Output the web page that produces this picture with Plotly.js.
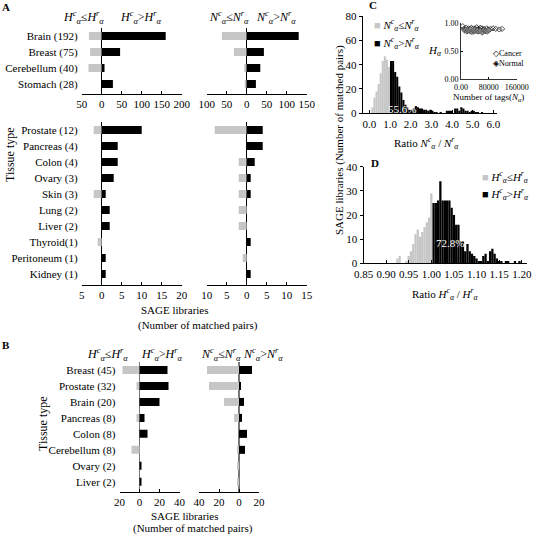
<!DOCTYPE html>
<html><head><meta charset="utf-8">
<script src="https://cdn.plot.ly/plotly-3.0.1.min.js"></script>
<style>body{margin:0;background:#fff}#chart{width:537px;height:535px}</style>
</head><body><div id="chart"></div>
<script>
// ---------- Panel A (top) ----------
const aTopTissues = ['Brain (192)','Breast (75)','Cerebellum (40)','Stomach (28)'];
const aTopHLe = [32, 29, 33, 0];
const aTopHGt = [160, 46, 7, 28];
const aTopNLe = [62, 32, 6, 5];
const aTopNGt = [130, 43, 34, 23];
const aTopHTicks = [-50, 0, 50, 100, 150, 200];
const aTopNTicks = [-100, -50, 0, 50, 100, 150];
// ---------- Panel A (bottom) ----------
const aBotTissues = ['Prostate (12)','Pancreas (4)','Colon (4)','Ovary (3)','Skin (3)','Lung (2)','Liver (2)','Thyroid(1)','Peritoneum (1)','Kidney (1)'];
const aBotHLe = [2,0,0,0,2,0,0,1,0,0];
const aBotHGt = [10,4,4,3,1,2,2,0,1,1];
const aBotNLe = [8,0,2,2,2,2,2,0,1,0];
const aBotNGt = [4,4,2,1,1,0,0,1,0,1];
const aBotHTicks = [-5, 0, 5, 10, 15, 20];
const aBotNTicks = [-10, -5, 0, 5, 10, 15];
// ---------- Panel B ----------
const bTissues = ['Breast (45)','Prostate (32)','Brain (20)','Pancreas (8)','Colon (8)','Cerebellum (8)','Ovary (2)','Liver (2)'];
const bHLe = [17,3,0,3,0,8,0,0];
const bHGt = [28,29,20,5,8,0,2,2];
const bNLe = [32,30,15,5,0,2,2,2];
const bNGt = [13,2,5,3,8,6,0,0];
const bHTicks = [-20, 0, 20, 40];
const bNTicks = [-40, -20, 0, 20];
// ---------- Panel C histogram ----------
const cGreyX = [0.15,0.25,0.35,0.45,0.55,0.65,0.75,0.85,0.95];
const cGreyY = [5,13,18,24,33,43,47,44,38];
const cBlackX = [1.05,1.15,1.25,1.35,1.45,1.55,1.65,1.75,1.85,1.95,2.05,2.15,2.25,2.35,2.45,2.55,2.65,2.75,2.85,2.95,3.05,3.15,3.25,3.35,3.45,3.55,3.65,3.75,3.85,3.95,4.05,4.15,4.25,4.35,4.45,4.55,4.65,4.75,4.85,4.95,5.05,5.15,5.25,5.35,5.45];
const cBlackY = [43,43,34,30,22,17,11,7,5,3,3,4,6,5,4,4,3,3,2,3,2,1,1,0,1,0,0,2,2,2,0,4,4,2,5,4,2,2,1,2,2,1,1,0,1];
const cTicks = [0,1,2,3,4,5,6];
// ---------- Panel C inset ----------
const cancerTags = [5000,8000,12000,15000,18000,22000,25000,28000,30000,33000,36000,40000,42000,45000,48000,50000,52000,55000,58000,60000,63000,66000,70000,74000,78000,85000,92000,100000,110000,118000];
const cancerH = [0.95,0.90,0.88,0.92,0.86,0.91,0.89,0.87,0.92,0.90,0.85,0.91,0.88,0.93,0.86,0.90,0.89,0.92,0.87,0.91,0.88,0.90,0.86,0.91,0.89,0.90,0.91,0.90,0.89,0.90];
const normalTags = [10000,14000,17000,20000,24000,27000,31000,35000,38000,43000,47000,51000,56000,61000,65000,69000,72000,76000,80000];
const normalH = [0.87,0.89,0.85,0.88,0.86,0.90,0.84,0.87,0.89,0.86,0.88,0.85,0.87,0.83,0.88,0.86,0.87,0.85,0.88];
// ---------- Panel D histogram ----------
const dGreyX = [0.925,0.93,0.945,0.95,0.955,0.96,0.965,0.97,0.975,0.98,0.985,0.99,0.995,1.0];
const dGreyY = [2,3,1,3,5,8,12,14,11,13,15,17,19,29];
const dBlackX = [1.005,1.01,1.015,1.02,1.025,1.03,1.035,1.04,1.045,1.05,1.055,1.06,1.065,1.07,1.075,1.08,1.085,1.09,1.095,1.1,1.105,1.11,1.115,1.12,1.125,1.13,1.135,1.14,1.145,1.15,1.155,1.16,1.165,1.17,1.175,1.18,1.185,1.19,1.195];
const dBlackY = [25,25,26,34,26,26,26,26,23,20,16,16,9,9,5,8,5,4,3,2,1,1,3,4,1,5,6,4,2,1,1,0,1,1,0,0,1,0,1];
const dTicks = [0.85,0.90,0.95,1.00,1.05,1.10,1.15,1.20];

const W = 537, H = 535;
const px = v => v / W;
const py = v => 1 - v / H;
const FONT = 'Liberation Serif, Times New Roman, serif';
const GREY = '#c6c6c6', BLACK = '#000000';

const traces = [];
const layout = {
  width: W, height: H,
  margin: {l:0, r:0, t:0, b:0},
  paper_bgcolor: '#fff', plot_bgcolor: 'rgba(0,0,0,0)',
  showlegend: false, barmode: 'relative',
  font: {family: FONT, size: 11, color: '#000'},
  annotations: []
};

function barPanel(id, cats, le, gt, xdom, ydom, extra, ticks, showCats, zeroColor) {
  const xa = 'x' + id, ya = 'y' + id;
  traces.push({type:'bar', orientation:'h', y:cats, x:le.map(v => -v), xaxis:xa, yaxis:ya,
    marker:{color:GREY}, width:0.5, hoverinfo:'skip'});
  traces.push({type:'bar', orientation:'h', y:cats, x:gt, xaxis:xa, yaxis:ya,
    marker:{color:BLACK}, width:0.5, hoverinfo:'skip'});
  layout['xaxis' + (id === '1' ? '' : id)] = {
    domain:[px(xdom[0]), px(xdom[1])], anchor:ya,
    range:[ticks[0], ticks[ticks.length-1]],
    tickvals: ticks, ticktext: ticks.map(v => String(Math.abs(v))),
    showline:true, linecolor:'#000', linewidth:1, mirror:false,
    ticks:'inside', ticklen:3, tickcolor:'#000',
    showgrid:false, zeroline:true, zerolinecolor:zeroColor, zerolinewidth:1.2,
    tickfont:{size:11}, fixedrange:true
  };
  layout['yaxis' + (id === '1' ? '' : id)] = {
    domain:[py(ydom[1]), py(ydom[0])], anchor:xa,
    type:'category', categoryorder:'array', categoryarray:cats,
    range:[cats.length - 0.5 + extra, -0.5],
    showline:false, ticks:'', showgrid:false, zeroline:false,
    showticklabels: showCats, ticklabelstandoff: 3, tickfont:{size:11}, fixedrange:true
  };
}

barPanel('1', aTopTissues, aTopHLe, aTopHGt, [81.7,181.7], [28,94], 0.125, aTopHTicks, true, '#000');
barPanel('2', aTopTissues, aTopNLe, aTopNGt, [206.7,306.7], [28,94], 0.125, aTopNTicks, false, '#000');
barPanel('3', aBotTissues, aBotHLe, aBotHGt, [81.7,181.7], [122,285], 0.19, aBotHTicks, true, '#000');
barPanel('4', aBotTissues, aBotNLe, aBotNGt, [206.7,306.7], [122,285], 0.19, aBotNTicks, false, '#000');
barPanel('5', bTissues, bHLe, bHGt, [119.5,179.5], [362,492], 0.14, bHTicks, true, '#777');
barPanel('6', bTissues, bNLe, bNGt, [199,259], [362,492], 0.14, bNTicks, false, '#777');

// Panel C
traces.push({type:'bar', x:cGreyX, y:cGreyY, width:0.1, marker:{color:GREY, line:{width:0}}, xaxis:'x7', yaxis:'y7', hoverinfo:'skip'});
traces.push({type:'bar', x:cBlackX, y:cBlackY, width:0.1, marker:{color:BLACK, line:{width:0}}, xaxis:'x7', yaxis:'y7', hoverinfo:'skip'});
layout.xaxis7 = {domain:[px(362.7), px(496.7)], anchor:'y7', range:[-0.32, 6.16],
  tickvals:cTicks, tickformat:'.1f', showline:true, linecolor:'#000', linewidth:1,
  ticks:'inside', ticklen:3, tickcolor:'#000', showgrid:false, zeroline:false, tickfont:{size:11}};
layout.yaxis7 = {domain:[py(113.3), py(16)], anchor:'x7', range:[0,80], dtick:20,
  showline:true, linecolor:'#000', linewidth:1, ticks:'outside', ticklen:3, tickcolor:'#000',
  showgrid:false, zeroline:false, tickfont:{size:11}};

// Inset
traces.push({type:'scatter', mode:'markers', x:cancerTags, y:cancerH, xaxis:'x8', yaxis:'y8',
  marker:{symbol:'diamond-open', size:4, color:'#000', line:{width:0.7}}, hoverinfo:'skip'});
traces.push({type:'scatter', mode:'markers', x:normalTags, y:normalH, xaxis:'x8', yaxis:'y8',
  marker:{symbol:'diamond', size:4, color:'#888', line:{width:0.5, color:'#333'}}, hoverinfo:'skip'});
layout.xaxis8 = {domain:[px(461), px(516.7)], anchor:'y8', range:[0,160000],
  tickvals:[0,80000,160000], ticktext:['0.00','80000','160000'],
  showline:true, linecolor:'#000', linewidth:0.8, ticks:'inside', ticklen:2, tickcolor:'#000',
  showgrid:false, zeroline:false, tickfont:{size:8}};
layout.yaxis8 = {domain:[py(79.3), py(23.3)], anchor:'x8', range:[0,1],
  tickvals:[0,0.5,1], ticktext:['0.00','0.50','1.00'],
  showline:true, linecolor:'#000', linewidth:0.8, ticks:'inside', ticklen:2, tickcolor:'#000',
  showgrid:false, zeroline:false, tickfont:{size:8}};

// Panel D
traces.push({type:'bar', x:dGreyX, y:dGreyY, width:0.005, marker:{color:GREY, line:{width:0}}, xaxis:'x9', yaxis:'y9', hoverinfo:'skip'});
traces.push({type:'bar', x:dBlackX, y:dBlackY, width:0.005, marker:{color:BLACK, line:{width:0}}, xaxis:'x9', yaxis:'y9', hoverinfo:'skip'});
layout.xaxis9 = {domain:[px(363.5), px(527.4)], anchor:'y9', range:[0.85, 1.2125],
  tickvals:dTicks, tickformat:'.2f', showline:true, linecolor:'#000', linewidth:1,
  ticks:'inside', ticklen:3, tickcolor:'#000', showgrid:false, zeroline:false, tickfont:{size:11}};
layout.yaxis9 = {domain:[py(263.3), py(166.7)], anchor:'x9', range:[0,40], dtick:10,
  showline:true, linecolor:'#000', linewidth:1, ticks:'outside', ticklen:3, tickcolor:'#000',
  showgrid:false, zeroline:false, tickfont:{size:11}};

// ---------- annotations ----------
function ann(text, x, y, opts) {
  layout.annotations.push(Object.assign({text:text, x:px(x), y:py(y), xref:'paper', yref:'paper',
    showarrow:false, xanchor:'center', yanchor:'middle', font:{size:11}}, opts || {}));
}
const sym = (s, op) => '<i>' + s + '</i><sup><i>c</i></sup><sub><i>α</i></sub>' + op + '<i>' + s + '</i><sup><i>r</i></sup><sub><i>α</i></sub>';

ann('<b>A</b>', 6, 7);
ann('<b>B</b>', 6, 345);
ann('<b>C</b>', 373, 5);
ann('<b>D</b>', 375, 163);

ann(sym('H','≤'), 83.3, 17, {font:{size:12}});
ann(sym('H','>'), 141, 17, {font:{size:12}});
ann(sym('N','≤'), 229, 18, {font:{size:12}});
ann(sym('N','>'), 276, 18, {font:{size:12}});

ann(sym('H','≤'), 107.5, 354, {font:{size:12}});
ann(sym('H','>'), 161.7, 354, {font:{size:12}});
ann(sym('N','≤'), 221, 354, {font:{size:12}});
ann(sym('N','>'), 263, 354, {font:{size:12}});

ann('Tissue type', 10, 155, {textangle:-90, font:{size:12}});
ann('Tissue type', 43, 424, {textangle:-90, font:{size:12}});

ann('SAGE libraries', 139, 310, {xanchor:'left'});
ann('(Number of matched pairs)', 136, 325, {xanchor:'left'});
ann('SAGE libraries', 185, 516);
ann('(Number of matched pairs)', 192.5, 528.5);

ann('SAGE libraries (Number of matched pairs)', 339, 140, {textangle:-90});

ann('Ratio ' + '<i>N</i><sup><i>c</i></sup><sub><i>α</i></sub> / <i>N</i><sup><i>r</i></sup><sub><i>α</i></sub>', 426.7, 143);
ann('Ratio ' + '<i>H</i><sup><i>c</i></sup><sub><i>α</i></sub> / <i>H</i><sup><i>r</i></sup><sub><i>α</i></sub>', 445, 294);

ann('<span style="color:' + GREY + '">■</span> ' + sym('N','≤'), 372, 25, {xanchor:'left', font:{size:11}});
ann('<span style="color:#000">■</span> ' + sym('N','>'), 372, 43, {xanchor:'left', font:{size:11}});
ann('<span style="color:' + GREY + '">■</span> ' + sym('H','≤'), 480, 177, {xanchor:'left', font:{size:11}});
ann('<span style="color:#000">■</span> ' + sym('H','>'), 480, 194, {xanchor:'left', font:{size:11}});

ann('<i>H</i><sub><i>α</i></sub>', 435, 51, {font:{size:11}});
ann('Number of tags(<i>N</i><sub><i>α</i></sub>)', 488, 98, {font:{size:9}});
ann('◇Cancer', 491, 54, {xanchor:'left', font:{size:8}});
ann('◈Normal', 491, 64, {xanchor:'left', font:{size:8}});

ann('55.6%', 401.5, 109, {font:{size:11, color:'#fff'}});
ann('72.8%', 450, 243, {font:{size:11, color:'#fff'}});

Plotly.newPlot('chart', traces, layout, {staticPlot:true, displayModeBar:false});
</script>
</body></html>
